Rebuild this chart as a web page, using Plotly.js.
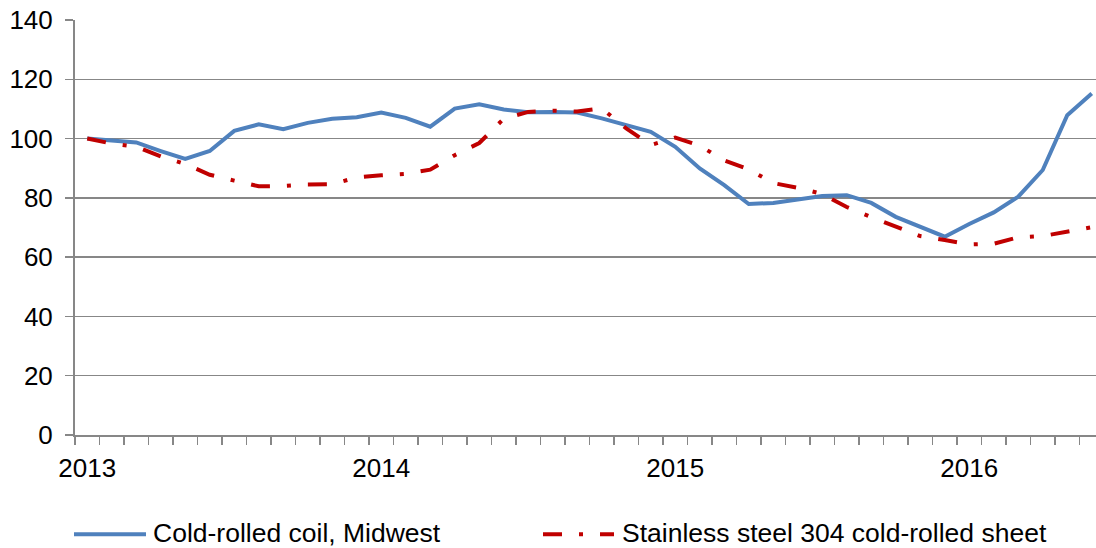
<!DOCTYPE html>
<html>
<head>
<meta charset="utf-8">
<script src="https://cdn.plot.ly/plotly-3.0.1.min.js"></script>
<style>
  html, body { margin: 0; padding: 0; overflow: hidden; background: #fff; }
  #chart { width: 1120px; height: 548px; }
</style>
</head>
<body>
<div id="chart"></div>
<script>
// ---- Data ----
const months = [
  'Jan 2013','Feb 2013','Mar 2013','Apr 2013','May 2013','Jun 2013','Jul 2013','Aug 2013','Sep 2013','Oct 2013','Nov 2013','Dec 2013',
  'Jan 2014','Feb 2014','Mar 2014','Apr 2014','May 2014','Jun 2014','Jul 2014','Aug 2014','Sep 2014','Oct 2014','Nov 2014','Dec 2014',
  'Jan 2015','Feb 2015','Mar 2015','Apr 2015','May 2015','Jun 2015','Jul 2015','Aug 2015','Sep 2015','Oct 2015','Nov 2015','Dec 2015',
  'Jan 2016','Feb 2016','Mar 2016','Apr 2016','May 2016','Jun 2016'
];
const yearLabels = ['2013', '2014', '2015', '2016'];

const coldRolledCoil = [
  100, 99.5, 98.7, 95.8, 93.1, 95.8, 102.6, 104.8, 103.2, 105.3, 106.7, 107.2,
  108.8, 107, 104, 110.1, 111.6, 109.8, 108.9, 109, 108.8, 106.8, 104.5, 102.3,
  97.2, 89.9, 84.3, 77.9, 78.3, 79.5, 80.6, 80.9, 78.3, 73.6, 70.3, 66.9,
  71.2, 75.1, 80.4, 89.4, 107.9, 115.2
];
const stainless304 = [
  100, 98.3, 97.3, 94, 91.4, 87.8, 85.8, 83.9, 84, 84.5, 84.6, 86.9,
  87.6, 88.1, 89.5, 94.4, 98.5, 106.7, 109, 109.4, 109.1, 110.2, 103.4, 97.8,
  100.3, 97.6, 92.6, 89.6, 85, 83.4, 81.3, 76.9, 73.5, 70.3, 67.1, 65.8,
  64.3, 64.5, 66.7, 67.1, 68.6, 70.1
];
const seriesNames = ['Cold-rolled coil, Midwest', 'Stainless steel 304 cold-rolled sheet'];
const yTicks = [0, 20, 40, 60, 80, 100, 120, 140];

// ---- Styles ----
const BLUE = '#4F81BD';
const RED = '#C00000';
const GRID = '#878787';
const FONT = 'Liberation Sans, Arial, Helvetica, sans-serif';
const RED_DASH = '19px,17px,4px,17px';

const xIdx = months.map((m, i) => i);
const yearTickVals = yearLabels.map(y => months.indexOf('Jan ' + y));

const traces = [
  { x: xIdx, y: coldRolledCoil, text: months, name: seriesNames[0], type: 'scatter', mode: 'lines',
    line: { color: BLUE, width: 4 } },
  { x: xIdx, y: stainless304, text: months, name: seriesNames[1], type: 'scatter', mode: 'lines',
    line: { color: RED, width: 4, dash: RED_DASH } }
];

// layout geometry (pixels)
const W = 1120, H = 548;
const M = { l: 75, r: 16, t: 19.5, b: 112.5 };
const plotW = W - M.l - M.r, plotH = H - M.t - M.b;
const px = x => (x - M.l) / plotW;
const py = y => (H - M.b - y) / plotH;

const legendY = 534;
const shapes = [
  { type: 'line', xref: 'paper', yref: 'paper', x0: px(74), x1: px(146), y0: py(legendY + 1), y1: py(legendY + 1),
    line: { color: BLUE, width: 4 } },
  { type: 'line', xref: 'paper', yref: 'paper', x0: px(543), x1: px(614), y0: py(legendY + 1), y1: py(legendY + 1),
    line: { color: RED, width: 4, dash: RED_DASH } }
];
const annotations = [
  { xref: 'paper', yref: 'paper', x: px(151), y: py(legendY), xanchor: 'left', yanchor: 'middle',
    text: seriesNames[0], showarrow: false, font: { family: FONT, size: 26.5, color: '#000' } },
  { xref: 'paper', yref: 'paper', x: px(619.5), y: py(legendY), xanchor: 'left', yanchor: 'middle',
    text: seriesNames[1], showarrow: false, font: { family: FONT, size: 26.5, color: '#000' } }
];

const layout = {
  width: W, height: H,
  margin: { l: M.l, r: M.r, t: M.t, b: M.b, pad: 0 },
  paper_bgcolor: '#fff', plot_bgcolor: '#fff',
  showlegend: false,
  font: { family: FONT, size: 26, color: '#000' },
  xaxis: {
    range: [-0.5, months.length - 0.5],
    tickmode: 'array', tickvals: yearTickVals, ticktext: yearLabels,
    ticks: '', showgrid: false, zeroline: false,
    showline: true, linecolor: GRID, linewidth: 2,
    tickfont: { family: FONT, size: 26, color: '#000' },
    ticklabelstandoff: 9,
    minor: { tickmode: 'linear', tick0: -0.5, dtick: 1, ticks: 'outside', ticklen: 8,
             tickcolor: GRID, tickwidth: 1.5, showgrid: false },
    fixedrange: true
  },
  yaxis: {
    range: [0, 140], tickmode: 'array', tickvals: yTicks, ticktext: yTicks.map(String),
    showgrid: true, gridcolor: GRID, gridwidth: 1.5, zeroline: false,
    showline: true, linecolor: GRID, linewidth: 2,
    ticks: 'outside', ticklen: 8, tickcolor: GRID, tickwidth: 1.5,
    tickfont: { family: FONT, size: 26, color: '#000' },
    ticklabelstandoff: 7,
    fixedrange: true
  },
  shapes: shapes,
  annotations: annotations
};

Plotly.newPlot('chart', traces, layout, { staticPlot: true, displayModeBar: false });
</script>
</body>
</html>
